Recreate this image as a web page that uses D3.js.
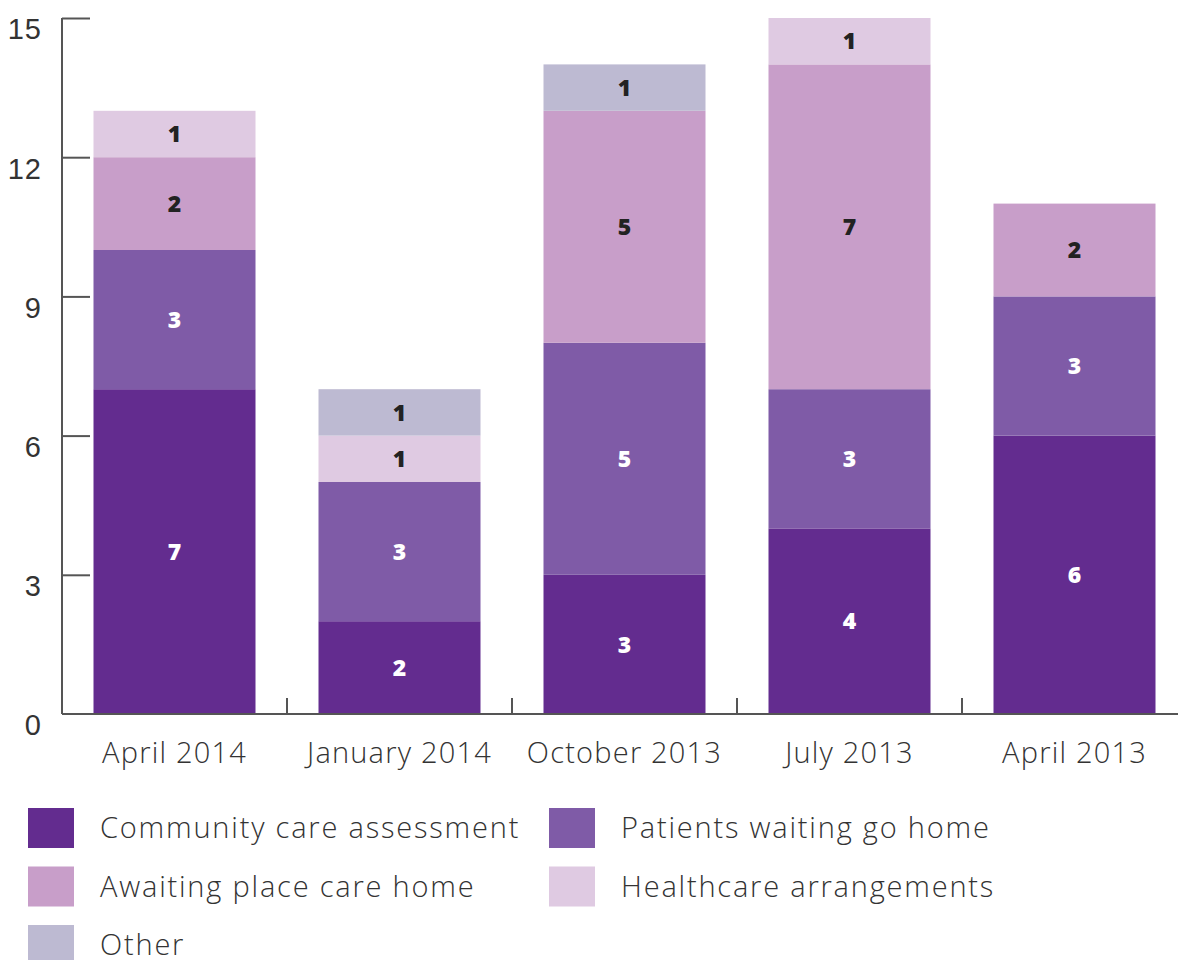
<!DOCTYPE html>
<html>
<head>
<meta charset="utf-8">
<script src="https://cdn.jsdelivr.net/npm/d3@7"></script>
<style>
  body { margin: 0; background: #fff; }
  svg { font-family: "Open Sans", Lato, sans-serif; }
  .tick text { fill: #333; font-size: 29px; font-weight: 300; letter-spacing: 1px; }
  .axis path, .axis line { stroke: #555; stroke-width: 2; }
  .seg-label { font-size: 23px; font-weight: 800; text-anchor: middle; }
  .legend text { fill: #333; font-size: 29px; font-weight: 300; letter-spacing: 1.8px; }
  .cat { fill: #333; font-size: 29px; font-weight: 300; letter-spacing: 1.2px; }
</style>
</head>
<body>
<svg width="1178" height="960"></svg>
<script>
const w = 1178, h = 960;

const periods = ["April 2014", "January 2014", "October 2013", "July 2013", "April 2013"];
const reasons = ["Community care assessment", "Patients waiting go home", "Awaiting place care home", "Healthcare arrangements", "Other"];
const community  = [7, 2, 3, 4, 6];
const waitHome   = [3, 3, 5, 3, 3];
const careHome   = [2, 0, 5, 7, 2];
const healthcare = [1, 1, 0, 1, 0];
const other      = [0, 1, 1, 0, 0];
const yTicks = [0, 3, 6, 9, 12, 15];

const colors = ["#632c8f", "#7f5ba7", "#c89ec9", "#dfcae2", "#bdbad2"];
const labelColors = ["#fff", "#fff", "#222", "#222", "#222"];

const series = [community, waitHome, careHome, healthcare, other];
const table = periods.map((p, i) => {
    const row = {period: p};
    reasons.forEach((r, k) => row[r] = series[k][i]);
    return row;
});

const stack = d3.stack().keys(reasons)(table);

const scaleX = d3.scaleBand().domain(periods).range([62, 1187]).paddingInner(0.28).paddingOuter(0.14);
const scaleY = d3.scaleLinear().domain([0, 15]).range([714, 18]);
const color = d3.scaleOrdinal().domain(reasons).range(colors);

const svg = d3.select("svg");

// bars
svg.append("g").selectAll("g.layer")
    .data(stack)
    .join("g").attr("class", "layer")
    .attr("fill", d => color(d.key))
    .selectAll("rect")
    .data(d => d.filter(s => s[1] > s[0]))
    .join("rect")
    .attr("x", d => scaleX(d.data.period))
    .attr("width", scaleX.bandwidth())
    .attr("y", d => scaleY(d[1]))
    .attr("height", d => scaleY(d[0]) - scaleY(d[1]));

// segment labels
stack.forEach((layer, k) => {
    svg.append("g").selectAll("text")
        .data(layer.filter(s => s[1] > s[0]))
        .join("text").attr("class", "seg-label")
        .attr("fill", labelColors[k])
        .attr("x", d => scaleX(d.data.period) + scaleX.bandwidth() / 2)
        .attr("y", d => (scaleY(d[0]) + scaleY(d[1])) / 2)
        .attr("dy", "0.36em")
        .text(d => d[1] - d[0]);
});

// y axis
const yG = svg.append("g").attr("class", "axis")
    .attr("transform", "translate(62,0)")
    .call(d3.axisRight(scaleY).tickValues(yTicks).tickSize(28).tickSizeOuter(0));
yG.select(".domain").attr("d", `M0,${scaleY(15)}V${scaleY(0)}`);
yG.selectAll(".tick line").filter(d => d === 0).remove();
yG.selectAll(".tick text")
    .attr("x", -20).attr("dy", "0.72em")
    .attr("text-anchor", "end");

// x axis
const xG = svg.append("g").attr("class", "axis")
    .attr("transform", "translate(0,714)");
xG.append("path").attr("d", "M62,0H1178");
const step = scaleX.step();
xG.selectAll("line.tk")
    .data(periods.slice(1))
    .join("line").attr("class", "tk")
    .attr("x1", d => scaleX(d) - (step - scaleX.bandwidth()) / 2)
    .attr("x2", d => scaleX(d) - (step - scaleX.bandwidth()) / 2)
    .attr("y1", 0).attr("y2", -16);
xG.selectAll("text")
    .data(periods)
    .join("text").attr("class", "cat")
    .attr("x", d => scaleX(d) + scaleX.bandwidth() / 2)
    .attr("y", 49)
    .attr("text-anchor", "middle")
    .text(d => d);

// legend
const legend = svg.append("g").attr("class", "legend");
legend.selectAll("g.item")
    .data(reasons)
    .join("g").attr("class", "item")
    .attr("transform", (d, i) => `translate(${[i % 2 ? 549 : 28, 808 + Math.floor(i / 2) * 58.5]})`)
    .each(function(d) {
        d3.select(this).append("rect")
            .attr("width", 46).attr("height", 40)
            .attr("fill", color(d));
        d3.select(this).append("text")
            .attr("x", 72).attr("y", 20).attr("dy", "0.35em")
            .text(d);
    });
</script>
</body>
</html>
